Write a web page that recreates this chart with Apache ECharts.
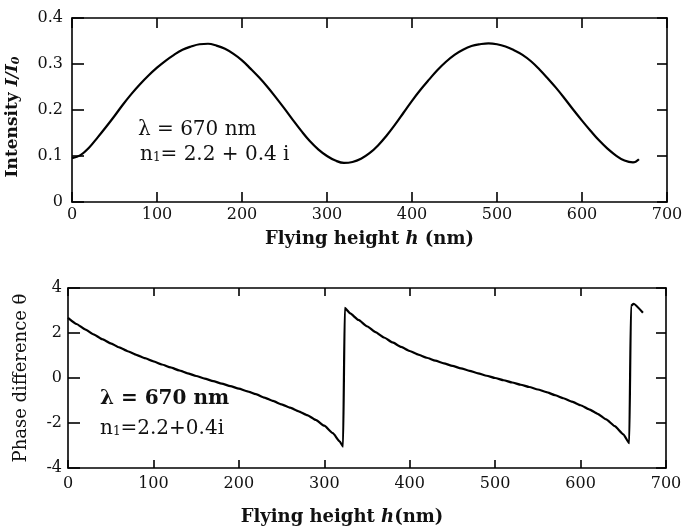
<!DOCTYPE html>
<html>
<head>
<meta charset="utf-8">
<script src="https://cdn.jsdelivr.net/npm/echarts@6/dist/echarts.min.js"></script>
<style>
  html, body { margin: 0; padding: 0; background: #fff; }
  #chart { width: 697px; height: 530px; }
</style>
</head>
<body>
<div id="chart"></div>
<script>
// flying height h (nm) -> intensity I/I0
const intensityH = [0, 10, 20, 30, 40, 50, 60, 70, 80, 90, 100, 110, 120, 130, 140, 150, 160, 170, 180, 190,
  200, 210, 220, 230, 240, 250, 260, 270, 280, 290, 300, 310, 320, 330, 340, 350, 360, 370, 380, 390,
  400, 410, 420, 430, 440, 450, 460, 470, 480, 490, 500, 510, 520, 530, 540, 550, 560, 570, 580, 590,
  600, 610, 620, 630, 640, 650, 660, 667];
const intensityVal = [0.095, 0.102, 0.118, 0.14, 0.163, 0.187, 0.212, 0.235, 0.256, 0.275, 0.292, 0.307, 0.32, 0.331, 0.338, 0.343, 0.344, 0.34, 0.333, 0.322,
  0.308, 0.29, 0.271, 0.25, 0.227, 0.203, 0.178, 0.154, 0.132, 0.114, 0.1, 0.09, 0.085, 0.087, 0.094, 0.106, 0.123, 0.144, 0.168, 0.194,
  0.22, 0.244, 0.266, 0.287, 0.305, 0.32, 0.331, 0.339, 0.343, 0.345, 0.343, 0.338, 0.33, 0.32, 0.306, 0.288, 0.268, 0.247, 0.224, 0.2,
  0.177, 0.155, 0.134, 0.116, 0.101, 0.09, 0.086, 0.093];

// flying height h (nm) -> phase difference theta
const phaseH = [0, 10, 20, 30, 40, 50, 60, 70, 80, 90, 100, 110, 120, 130, 140, 150, 160, 170, 180, 190,
  200, 210, 220, 230, 240, 250, 260, 270, 280, 290, 300, 310, 318, 322, 324, 330, 340, 350, 360, 370,
  380, 390, 400, 410, 420, 430, 440, 450, 460, 470, 480, 490, 500, 510, 520, 530, 540, 550, 560, 570,
  580, 590, 600, 610, 620, 630, 640, 650, 657, 659, 662, 673];
const phaseVal = [2.67, 2.4, 2.16, 1.94, 1.73, 1.54, 1.36, 1.19, 1.03, 0.88, 0.74, 0.6, 0.47, 0.34, 0.21, 0.09, -0.03, -0.14, -0.25, -0.36,
  -0.47, -0.59, -0.72, -0.87, -1.02, -1.17, -1.32, -1.48, -1.65, -1.86, -2.12, -2.45, -2.82, -3.05, 3.12, 2.88, 2.58, 2.3, 2.04, 1.8,
  1.58, 1.38, 1.2, 1.04, 0.9, 0.77, 0.65, 0.54, 0.43, 0.32, 0.21, 0.1, 0, -0.1, -0.2, -0.3, -0.4, -0.51, -0.63, -0.76,
  -0.9, -1.05, -1.21, -1.39, -1.59, -1.84, -2.14, -2.5, -2.9, 3.2, 3.3, 2.9];

const font = "DejaVu Serif";
const chart = echarts.init(document.getElementById("chart"));

const tickStyle = (len) => ({ show: true, inside: true, length: len, lineStyle: { color: "#000", width: 1.6 } });

const boxAxis = (extra) => Object.assign({
  type: "value",
  axisLine: { show: true, onZero: false, lineStyle: { color: "#000", width: 1.6 } },
  axisTick: tickStyle(10),
  splitLine: { show: false },
  axisLabel: { show: false },
}, extra);

const tickLabel = (margin) => ({ show: true, color: "#111", fontFamily: font, fontSize: 16, margin: margin });

const nameRich = {
  a: { fontFamily: font, fontSize: 18, fontWeight: "bold", color: "#111" },
  i: { fontFamily: font, fontSize: 18, fontWeight: "bold", fontStyle: "italic", color: "#111" },
};

chart.setOption({
  animation: false,
  backgroundColor: "#fff",
  grid: [
    { left: 72, right: 30, top: 18, height: 184, outerBoundsMode: "none" },
    { left: 68, right: 31, top: 288, height: 180, outerBoundsMode: "none" },
  ],
  xAxis: [
    boxAxis({
      gridIndex: 0, min: 0, max: 700, interval: 100, position: "bottom",
      axisLabel: tickLabel(5),
      name: "{a|Flying height }{i|h}{a| (nm)}",
      nameLocation: "middle", nameGap: 28,
      nameTextStyle: { rich: nameRich },
    }),
    boxAxis({ gridIndex: 0, min: 0, max: 700, interval: 100, position: "top" }),
    boxAxis({
      gridIndex: 1, min: 0, max: 700, interval: 100, position: "bottom",
      axisTick: tickStyle(8),
      axisLabel: tickLabel(8),
      name: "{a|Flying height }{i|h}{a|(nm)}",
      nameLocation: "middle", nameGap: 40,
      nameTextStyle: { rich: nameRich, padding: [0, 50, 0, 0] },
    }),
    boxAxis({ gridIndex: 1, min: 0, max: 700, interval: 100, position: "top", axisTick: tickStyle(8) }),
  ],
  yAxis: [
    boxAxis({
      gridIndex: 0, min: 0, max: 0.4, interval: 0.1, position: "left",
      axisTick: tickStyle(12),
      axisLabel: Object.assign(tickLabel(9), {
        formatter: (v) => (v === 0 ? "0" : v.toFixed(1)),
      }),
      name: "{a|Intensity }{i|I/I}{s|0}",
      nameLocation: "middle", nameGap: 50, nameRotate: 90,
      nameTextStyle: {
        padding: [0, 14, 0, 0],
        rich: {
          a: { fontFamily: font, fontSize: 17, fontWeight: "bold", color: "#111" },
          i: { fontFamily: font, fontSize: 17, fontWeight: "bold", fontStyle: "italic", color: "#111" },
          s: { fontFamily: font, fontSize: 11, fontWeight: "bold", fontStyle: "italic", color: "#111", padding: [8, 0, 0, 0] },
        },
      },
    }),
    boxAxis({ gridIndex: 0, min: 0, max: 0.4, interval: 0.1, position: "right" }),
    boxAxis({
      gridIndex: 1, min: -4, max: 4, interval: 2, position: "left",
      axisTick: tickStyle(12),
      axisLabel: tickLabel(6),
      name: "Phase difference θ",
      nameLocation: "middle", nameGap: 38, nameRotate: 90,
      nameTextStyle: { fontFamily: font, fontSize: 18, color: "#111" },
    }),
    boxAxis({ gridIndex: 1, min: -4, max: 4, interval: 2, position: "right" }),
  ],
  graphic: [
    {
      type: "text", left: 138, top: 120,
      style: { text: "λ = 670 nm", fontFamily: font, fontSize: 20, fill: "#111" },
    },
    {
      type: "text", left: 140, top: 145,
      style: {
        text: "{a|n}{s|1}{a|= 2.2 + 0.4 i}",
        rich: {
          a: { fontFamily: font, fontSize: 20, fill: "#111" },
          s: { fontFamily: font, fontSize: 12, fill: "#111", padding: [6, 0, 0, 0] },
        },
      },
    },
    {
      type: "text", left: 100, top: 389,
      style: { text: "λ = 670 nm", fontFamily: font, fontSize: 20, fontWeight: "bold", fill: "#111" },
    },
    {
      type: "text", left: 100, top: 419,
      style: {
        text: "{a|n}{s|1}{a|=2.2+0.4i}",
        rich: {
          a: { fontFamily: font, fontSize: 20, fill: "#111" },
          s: { fontFamily: font, fontSize: 12, fill: "#111", padding: [6, 0, 0, 0] },
        },
      },
    },
  ],
  series: [
    {
      type: "line", xAxisIndex: 0, yAxisIndex: 0, smooth: 0.4, symbol: "none",
      lineStyle: { color: "#000", width: 2.2 },
      data: intensityH.map((h, i) => [h, intensityVal[i]]),
    },
    {
      type: "line", xAxisIndex: 2, yAxisIndex: 2, symbol: "none",
      smooth: 0.15, smoothMonotone: "x",
      lineStyle: { color: "#000", width: 2.2 },
      data: phaseH.map((h, i) => [h, phaseVal[i]]),
    },
  ],
});
</script>
</body>
</html>
